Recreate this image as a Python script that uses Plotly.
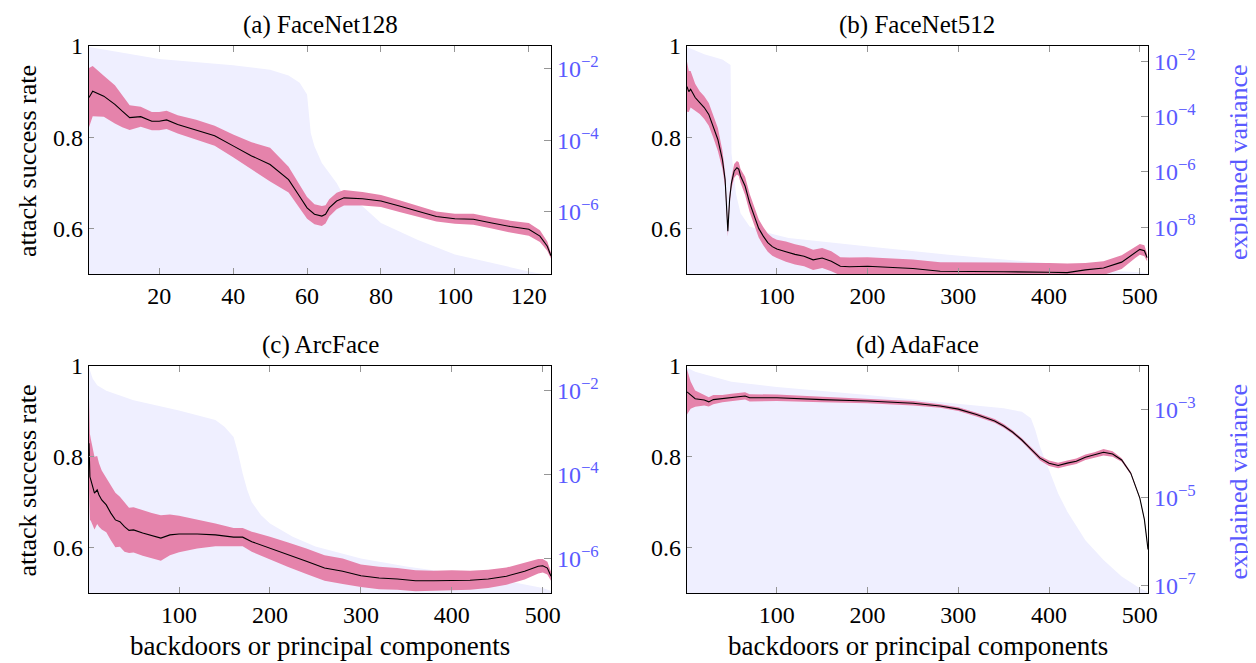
import plotly.graph_objects as go

# ---------------- data ----------------
# (a) FaceNet128
a_x = [1, 2, 5, 8, 10, 12, 15, 18, 20, 22, 25, 30, 35, 40, 45, 50, 55, 58, 60, 62, 64, 65, 66, 68, 70, 75, 80, 85, 90, 95, 100, 105, 110, 115, 120, 123, 125, 126]
a_mean = [0.887, 0.901, 0.89, 0.872, 0.857, 0.843, 0.845, 0.835, 0.835, 0.838, 0.828, 0.816, 0.803, 0.781, 0.759, 0.740, 0.707, 0.670, 0.645, 0.631, 0.627, 0.631, 0.645, 0.660, 0.667, 0.665, 0.660, 0.649, 0.638, 0.626, 0.621, 0.620, 0.612, 0.604, 0.598, 0.583, 0.561, 0.540]
a_spread = [0.065, 0.055, 0.045, 0.042, 0.035, 0.027, 0.022, 0.02, 0.02, 0.02, 0.02, 0.022, 0.022, 0.025, 0.03, 0.037, 0.028, 0.025, 0.024, 0.022, 0.022, 0.02, 0.019, 0.018, 0.017, 0.015, 0.013, 0.013, 0.012, 0.011, 0.011, 0.012, 0.012, 0.013, 0.014, 0.013, 0.01, 0.006]
a_var_x = [1, 5, 20, 40, 50, 55, 58, 60, 61, 62, 64, 66, 68, 70, 75, 80, 90, 100, 110, 120, 126]
a_var = [4.1e-2, 3.5e-2, 1.9e-2, 1.26e-2, 9.5e-3, 6.5e-3, 4.1e-3, 1.9e-3, 1.6e-4, 6.8e-5, 2.3e-5, 1.2e-5, 6.3e-6, 2.7e-6, 1.4e-6, 4.8e-7, 1.6e-7, 6.3e-8, 3.6e-8, 2.1e-8, 1.6e-8]

# (b) FaceNet512
b_x = [1, 3, 5, 10, 15, 20, 25, 30, 35, 40, 43, 44, 45, 46, 47, 48, 50, 53, 56, 58, 60, 65, 70, 75, 80, 85, 90, 95, 100, 110, 120, 130, 140, 150, 160, 170, 180, 200, 220, 250, 280, 300, 350, 400, 420, 440, 460, 480, 495, 500, 505, 508]
b_mean = [0.911, 0.90, 0.905, 0.887, 0.876, 0.865, 0.85, 0.824, 0.795, 0.751, 0.707, 0.67, 0.63, 0.594, 0.63, 0.665, 0.70, 0.726, 0.733, 0.73, 0.715, 0.693, 0.656, 0.627, 0.60, 0.583, 0.569, 0.56, 0.555, 0.549, 0.543, 0.539, 0.531, 0.535, 0.528, 0.517, 0.516, 0.517, 0.515, 0.512, 0.506, 0.506, 0.505, 0.504, 0.503, 0.509, 0.513, 0.526, 0.547, 0.554, 0.551, 0.536]
b_spread = [0.055, 0.045, 0.04, 0.03, 0.025, 0.025, 0.025, 0.025, 0.025, 0.02, 0.015, 0.013, 0.012, 0.012, 0.012, 0.012, 0.012, 0.015, 0.015, 0.015, 0.015, 0.02, 0.02, 0.02, 0.02, 0.02, 0.02, 0.02, 0.02, 0.022, 0.022, 0.022, 0.022, 0.022, 0.022, 0.02, 0.02, 0.02, 0.02, 0.02, 0.02, 0.02, 0.02, 0.02, 0.02, 0.015, 0.015, 0.015, 0.012, 0.012, 0.012, 0.008]
b_var_x = [1, 20, 40, 49, 50, 52, 55, 60, 70, 95, 113, 201, 289, 377, 421, 443, 465, 500, 509]
b_var = [3.4e-2, 1.86e-2, 1.2e-2, 7.6e-3, 4.9e-6, 1.26e-6, 1.6e-7, 3.2e-8, 1.05e-8, 5.6e-9, 4.0e-9, 2.0e-9, 1.0e-9, 5.6e-10, 4.3e-10, 3.0e-10, 2.6e-10, 2.3e-10, 2.1e-10]

# (c) ArcFace
c_x = [1, 2, 3, 5, 7, 10, 12, 15, 20, 25, 30, 35, 40, 45, 50, 60, 70, 80, 90, 100, 120, 140, 160, 170, 180, 200, 220, 240, 260, 280, 300, 320, 340, 360, 380, 400, 420, 440, 460, 480, 495, 500, 505, 509]
c_mean = [0.83, 0.756, 0.749, 0.734, 0.72, 0.727, 0.716, 0.705, 0.694, 0.676, 0.661, 0.657, 0.646, 0.638, 0.639, 0.632, 0.626, 0.621, 0.628, 0.63, 0.63, 0.628, 0.623, 0.623, 0.613, 0.599, 0.584, 0.57, 0.555, 0.548, 0.538, 0.533, 0.531, 0.527, 0.527, 0.528, 0.528, 0.531, 0.537, 0.548, 0.559, 0.56, 0.555, 0.537]
c_spread = [0.1, 0.095, 0.09, 0.085, 0.08, 0.075, 0.07, 0.065, 0.06, 0.06, 0.06, 0.055, 0.055, 0.05, 0.05, 0.05, 0.05, 0.05, 0.045, 0.04, 0.032, 0.025, 0.02, 0.02, 0.022, 0.025, 0.027, 0.028, 0.028, 0.028, 0.025, 0.025, 0.024, 0.023, 0.022, 0.022, 0.021, 0.02, 0.019, 0.018, 0.016, 0.015, 0.014, 0.01]
c_var_x = [1, 5, 10, 20, 50, 100, 140, 150, 160, 165, 170, 175, 180, 190, 200, 225, 250, 300, 350, 400, 450, 500, 509]
c_var = [3.6e-2, 1.95e-2, 1.35e-2, 1.0e-2, 5.9e-3, 3.4e-3, 2.0e-3, 1.38e-3, 7.9e-4, 3.2e-4, 1.07e-4, 4.3e-5, 2.2e-5, 1.1e-5, 6.9e-6, 3.3e-6, 1.95e-6, 1.0e-6, 6.5e-7, 4.5e-7, 3.2e-7, 2.0e-7, 1.7e-7]

# (d) AdaFace
d_x = [1, 3, 5, 10, 20, 25, 30, 40, 50, 65, 70, 100, 150, 200, 250, 280, 300, 320, 340, 350, 360, 370, 380, 390, 400, 410, 420, 430, 440, 450, 460, 470, 480, 490, 500, 505, 509]
d_mean = [0.943, 0.94, 0.936, 0.928, 0.925, 0.921, 0.926, 0.928, 0.931, 0.934, 0.93, 0.93, 0.926, 0.923, 0.918, 0.912, 0.905, 0.893, 0.879, 0.868, 0.854, 0.837, 0.817, 0.797, 0.786, 0.781, 0.786, 0.79, 0.799, 0.804, 0.81, 0.806, 0.793, 0.764, 0.709, 0.662, 0.596]
d_spread = [0.05, 0.04, 0.03, 0.018, 0.012, 0.01, 0.01, 0.008, 0.008, 0.008, 0.008, 0.007, 0.006, 0.005, 0.005, 0.004, 0.004, 0.004, 0.004, 0.004, 0.004, 0.004, 0.004, 0.005, 0.006, 0.006, 0.006, 0.006, 0.006, 0.006, 0.007, 0.006, 0.004, 0.003, 0.002, 0.002, 0.002]
d_var_x = [1, 10, 50, 100, 200, 300, 350, 370, 380, 385, 390, 400, 410, 420, 440, 460, 480, 500, 509]
d_var = [8.7e-3, 7.1e-3, 4.2e-3, 3.2e-3, 2.1e-3, 1.35e-3, 1.05e-3, 8.7e-4, 6.2e-4, 3.3e-4, 1.4e-4, 4.2e-5, 1.23e-5, 4.8e-6, 1.07e-6, 3.8e-7, 1.6e-7, 8.7e-8, 7.1e-8]

titles = ["(a) FaceNet128", "(b) FaceNet512", "(c) ArcFace", "(d) AdaFace"]
x_ranges = [[1, 126], [1, 509], [1, 509], [1, 509]]
x_ticks = [[20, 40, 60, 80, 100, 120], [100, 200, 300, 400, 500], [100, 200, 300, 400, 500], [100, 200, 300, 400, 500]]
var_log_ranges = [[-7.75, -1.36], [-9.70, -1.43], [-6.82, -1.41], [-7.17, -2.02]]
var_tick_exps = [[-2, -4, -6], [-2, -4, -6, -8], [-2, -4, -6], [-3, -5, -7]]
asr_ticks = [0.6, 0.8, 1.0]
asr_ticktext = ["0.6", "0.8", "1"]

panels = [
    (a_x, a_mean, a_spread, a_var_x, a_var),
    (b_x, b_mean, b_spread, b_var_x, b_var),
    (c_x, c_mean, c_spread, c_var_x, c_var),
    (d_x, d_mean, d_spread, d_var_x, d_var),
]

# ---------------- style ----------------
# the page body has an 8px margin, so the figure is drawn 8px smaller and
# every screen position below is given relative to that offset
OFF = 8
W, H = 1256 - OFF, 663 - OFF
FONT = "Liberation Serif"
BLUE = "rgb(90,90,255)"
LAV = "rgb(239,239,255)"
PINK = "rgb(229,131,171)"
TICKGRAY = "rgb(150,150,150)"
TICKSIZE = 24
TITLESIZE = 25
LABELSIZE = 26

# screen-pixel boxes of the four plot areas: (left, right, top, bottom)
boxes = [(89, 551, 46, 274), (687, 1148, 46, 274), (89, 551, 366, 593), (687, 1148, 366, 593)]


def px_x(p):
    return (p - OFF) / W


def px_y(p):
    return 1 - (p - OFF) / H


fig = go.Figure()
layout = dict(
    width=W, height=H, autosize=False,
    margin=dict(l=0, r=0, t=0, b=0, pad=0, autoexpand=False),
    paper_bgcolor="white", plot_bgcolor="white", showlegend=False,
    font=dict(family=FONT, size=TICKSIZE, color="black"),
)
annotations = []

for i, (px, pm, ps, vx, vv) in enumerate(panels):
    l, r, t, b = boxes[i]
    xd = [px_x(l), px_x(r)]
    yd = [px_y(b), px_y(t)]
    xn = "x" if i == 0 else f"x{i+1}"
    yv = "y" if i == 0 else f"y{2*i+1}"   # log variance axis (base)
    ya = f"y{2*i+2}"                       # ASR axis (overlay, drawn on top)
    xkey = "xaxis" if i == 0 else f"xaxis{i+1}"
    yvkey = "yaxis" if i == 0 else f"yaxis{2*i+1}"
    yakey = f"yaxis{2*i+2}"

    # explained variance area
    fig.add_trace(go.Scatter(x=[vx[0], vx[-1]], y=[1e-14, 1e-14], mode="lines",
                             line=dict(width=0), xaxis=xn, yaxis=yv, hoverinfo="skip"))
    fig.add_trace(go.Scatter(x=vx, y=vv, mode="lines", line=dict(width=0),
                             fill="tonexty", fillcolor=LAV, xaxis=xn, yaxis=yv))
    # ASR band
    upper = [m + s for m, s in zip(pm, ps)]
    lower = [m - s for m, s in zip(pm, ps)]
    fig.add_trace(go.Scatter(x=px, y=upper, mode="lines", line=dict(width=0),
                             xaxis=xn, yaxis=ya, hoverinfo="skip"))
    fig.add_trace(go.Scatter(x=px, y=lower, mode="lines", line=dict(width=0),
                             fill="tonexty", fillcolor=PINK, xaxis=xn, yaxis=ya))
    fig.add_trace(go.Scatter(x=px, y=pm, mode="lines", line=dict(color="black", width=1.1),
                             xaxis=xn, yaxis=ya))

    layout[xkey] = dict(
        domain=xd, anchor=yv, range=x_ranges[i], tickvals=x_ticks[i],
        showline=True, linecolor="black", linewidth=1.2, mirror="ticks",
        ticks="inside", ticklen=6, tickcolor=TICKGRAY, showgrid=False, zeroline=False,
        automargin=False,
        tickfont=dict(size=TICKSIZE, family=FONT, color="black"),
    )
    exps = var_tick_exps[i]
    layout[yvkey] = dict(
        domain=yd, anchor=xn, type="log", range=var_log_ranges[i], side="right",
        tickvals=[10.0 ** e for e in exps],
        ticktext=[f"10<sup>\u2212{-e}</sup>" for e in exps],
        showline=True, linecolor="black", linewidth=1.2,
        ticks="inside", ticklen=7, tickcolor=TICKGRAY, showgrid=False, zeroline=False,
        automargin=False,
        tickfont=dict(size=TICKSIZE, family=FONT, color=BLUE),
    )
    layout[yakey] = dict(
        overlaying=yv, anchor=xn, side="left", range=[0.5, 1.0],
        tickvals=asr_ticks, ticktext=asr_ticktext,
        showline=True, linecolor="black", linewidth=1.2,
        ticks="inside", ticklen=5, tickcolor=TICKGRAY, showgrid=False, zeroline=False,
        automargin=False,
        tickfont=dict(size=TICKSIZE, family=FONT, color="black"),
    )

    annotations.append(dict(text=titles[i], x=(xd[0] + xd[1]) / 2, y=px_y(t - 21),
                            xref="paper", yref="paper", showarrow=False,
                            font=dict(size=TITLESIZE, family=FONT), xanchor="center", yanchor="middle"))

# axis titles
for (l, r, t, b) in [boxes[0], boxes[2]]:
    annotations.append(dict(text="attack success rate", x=px_x(27), y=px_y((t + b) / 2 + 1),
                            xref="paper", yref="paper", showarrow=False, textangle=-90,
                            font=dict(size=LABELSIZE, family=FONT), xanchor="center", yanchor="middle"))
for (l, r, t, b) in [boxes[1], boxes[3]]:
    annotations.append(dict(text="explained variance", x=px_x(1238), y=px_y((t + b) / 2 + 2),
                            xref="paper", yref="paper", showarrow=False, textangle=-90,
                            font=dict(size=LABELSIZE, family=FONT, color=BLUE), xanchor="center", yanchor="middle"))
for (l, r, t, b) in [boxes[2], boxes[3]]:
    annotations.append(dict(text="backdoors or principal components", x=px_x((l + r) / 2), y=px_y(646),
                            xref="paper", yref="paper", showarrow=False,
                            font=dict(size=LABELSIZE + 1, family=FONT), xanchor="center", yanchor="middle"))

layout["annotations"] = annotations
fig.update_layout(**layout)
fig.write_html("out.html")
